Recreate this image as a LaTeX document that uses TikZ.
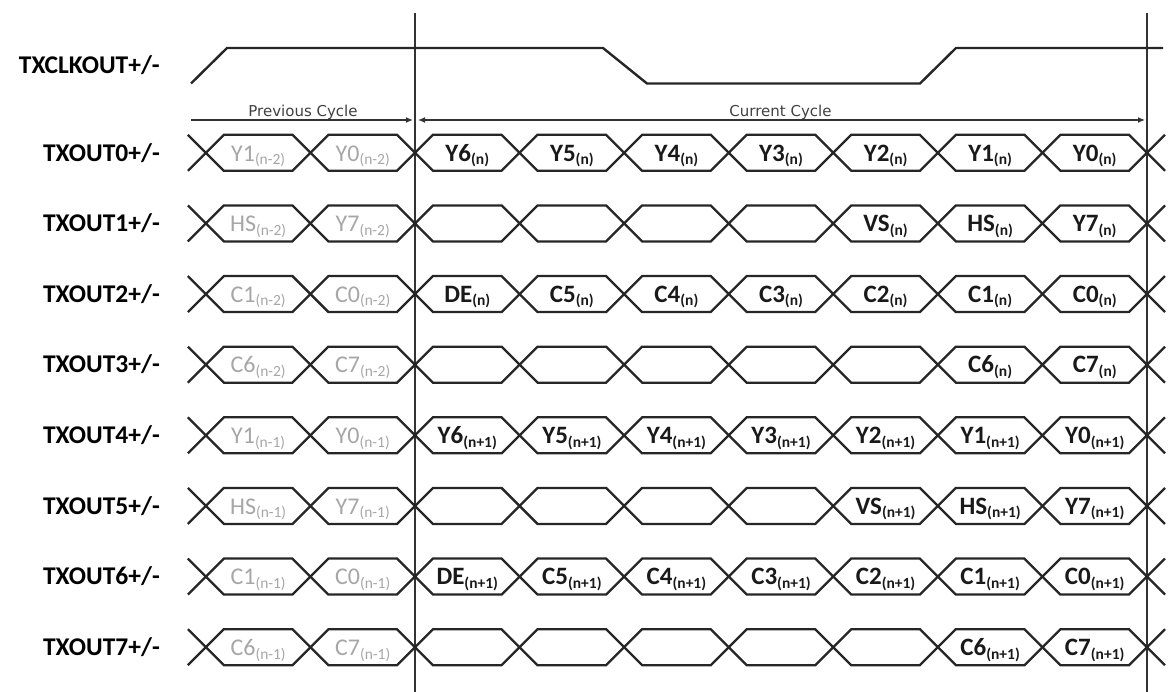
\documentclass[tikz,border=0pt]{standalone}
\usepackage{fontspec}
\setmainfont{Carlito}
\newfontfamily\dvs{DejaVu Sans}
\usetikzlibrary{arrows.meta}
\newcommand\tcell[5]{%
  \node[#5] (c#1-#2) at ({415+(#2-1.5)*104.571}, {152.8+#1*70.63+8.3})
    {#3{\fontsize{15.5}{15.5}\selectfont\raisebox{-3.5pt}{#4}}};}
\begin{document}
\begin{tikzpicture}[x=1pt,y=-1pt,
  wave/.style={line width=2.3pt, draw=black!85, line join=miter},
  clk/.style={line width=2.4pt, draw=black!85},
  vline/.style={line width=1.4pt, draw=black!80},
  cyc/.style={line width=1.3pt, draw=black!80},
  lbl/.style={anchor=base east, font=\fontsize{25.5}{26}\selectfont\bfseries, inner sep=0pt},
  cur/.style={anchor=base, font=\fontsize{25}{26}\selectfont\bfseries, text=black!90, inner sep=0pt},
  prev/.style={anchor=base, font=\fontsize{24}{26}\selectfont, text=black!35, inner sep=0pt},
  cyctxt/.style={anchor=base, font=\dvs\fontsize{15}{16}\selectfont, text=black!75, inner sep=0pt}
]
\useasboundingbox (0,0) rectangle (1168,692);
% vertical reference lines
\coordinate (v1t) at (415,13);
\coordinate (v1b) at (415,692);
\coordinate (v2t) at (1147,13);
\coordinate (v2b) at (1147,692);
\draw[vline] (v1t) -- (v1b);
\draw[vline] (v2t) -- (v2b);
% clock
\node[lbl] (lclk) at (160,73.8) {TXCLKOUT+/-};
\draw[clk] (191,83.5) -- (227,48) -- (603,48) -- (647,83.5) -- (920,83.5) -- (956,48) -- (1163,48);
% cycle arrows
\coordinate (pa) at (191,120);
\coordinate (pb) at (413,120);
\coordinate (ca) at (418,120);
\coordinate (cb) at (1145,120);
\draw[cyc, -{Latex[length=7pt,width=6pt]}] (pa) -- (pb);
\draw[cyc, {Latex[length=7pt,width=6pt]}-{Latex[length=7pt,width=6pt]}] (ca) -- (cb);
\node[cyctxt] (tprev) at (303,116.5) {Previous Cycle};
\node[cyctxt] (tcur) at (780.5,116.5) {Current Cycle};
% data rows
\foreach \r in {0,...,7}{
  \pgfmathsetmacro\y{152.8+\r*70.63}
  \node[lbl] (l\r) at (160,\y+8.3) {TXOUT\r+/-};
  \foreach \i in {0,...,8}{
    \pgfmathsetmacro\ca{415+(\i-2)*104.571}
    \pgfmathsetmacro\cb{415+(\i-1)*104.571}
    \draw[wave] (\ca,\y) -- (\ca+18,\y-18) -- (\cb-18,\y-18) -- (\cb,\y)
      -- (\cb-18,\y+18) -- (\ca+18,\y+18) -- cycle;
  }
  \draw[wave] (415-2*104.571-18,\y-18) -- (415-2*104.571,\y) -- (415-2*104.571-18,\y+18);
  \draw[wave] (1147+18,\y-18) -- (1147,\y) -- (1147+18,\y+18);
}
% row 0
\tcell{0}{0}{Y1}{(n-2)}{prev}\tcell{0}{1}{Y0}{(n-2)}{prev}
\tcell{0}{2}{Y6}{(n)}{cur}\tcell{0}{3}{Y5}{(n)}{cur}\tcell{0}{4}{Y4}{(n)}{cur}
\tcell{0}{5}{Y3}{(n)}{cur}\tcell{0}{6}{Y2}{(n)}{cur}\tcell{0}{7}{Y1}{(n)}{cur}
\tcell{0}{8}{Y0}{(n)}{cur}
% row 1
\tcell{1}{0}{HS}{(n-2)}{prev}\tcell{1}{1}{Y7}{(n-2)}{prev}
\tcell{1}{6}{VS}{(n)}{cur}\tcell{1}{7}{HS}{(n)}{cur}\tcell{1}{8}{Y7}{(n)}{cur}
% row 2
\tcell{2}{0}{C1}{(n-2)}{prev}\tcell{2}{1}{C0}{(n-2)}{prev}
\tcell{2}{2}{DE}{(n)}{cur}\tcell{2}{3}{C5}{(n)}{cur}\tcell{2}{4}{C4}{(n)}{cur}
\tcell{2}{5}{C3}{(n)}{cur}\tcell{2}{6}{C2}{(n)}{cur}\tcell{2}{7}{C1}{(n)}{cur}
\tcell{2}{8}{C0}{(n)}{cur}
% row 3
\tcell{3}{0}{C6}{(n-2)}{prev}\tcell{3}{1}{C7}{(n-2)}{prev}
\tcell{3}{7}{C6}{(n)}{cur}\tcell{3}{8}{C7}{(n)}{cur}
% row 4
\tcell{4}{0}{Y1}{(n-1)}{prev}\tcell{4}{1}{Y0}{(n-1)}{prev}
\tcell{4}{2}{Y6}{(n+1)}{cur}\tcell{4}{3}{Y5}{(n+1)}{cur}\tcell{4}{4}{Y4}{(n+1)}{cur}
\tcell{4}{5}{Y3}{(n+1)}{cur}\tcell{4}{6}{Y2}{(n+1)}{cur}\tcell{4}{7}{Y1}{(n+1)}{cur}
\tcell{4}{8}{Y0}{(n+1)}{cur}
% row 5
\tcell{5}{0}{HS}{(n-1)}{prev}\tcell{5}{1}{Y7}{(n-1)}{prev}
\tcell{5}{6}{VS}{(n+1)}{cur}\tcell{5}{7}{HS}{(n+1)}{cur}\tcell{5}{8}{Y7}{(n+1)}{cur}
% row 6
\tcell{6}{0}{C1}{(n-1)}{prev}\tcell{6}{1}{C0}{(n-1)}{prev}
\tcell{6}{2}{DE}{(n+1)}{cur}\tcell{6}{3}{C5}{(n+1)}{cur}\tcell{6}{4}{C4}{(n+1)}{cur}
\tcell{6}{5}{C3}{(n+1)}{cur}\tcell{6}{6}{C2}{(n+1)}{cur}\tcell{6}{7}{C1}{(n+1)}{cur}
\tcell{6}{8}{C0}{(n+1)}{cur}
% row 7
\tcell{7}{0}{C6}{(n-1)}{prev}\tcell{7}{1}{C7}{(n-1)}{prev}
\tcell{7}{7}{C6}{(n+1)}{cur}\tcell{7}{8}{C7}{(n+1)}{cur}
\end{tikzpicture}
\end{document}
